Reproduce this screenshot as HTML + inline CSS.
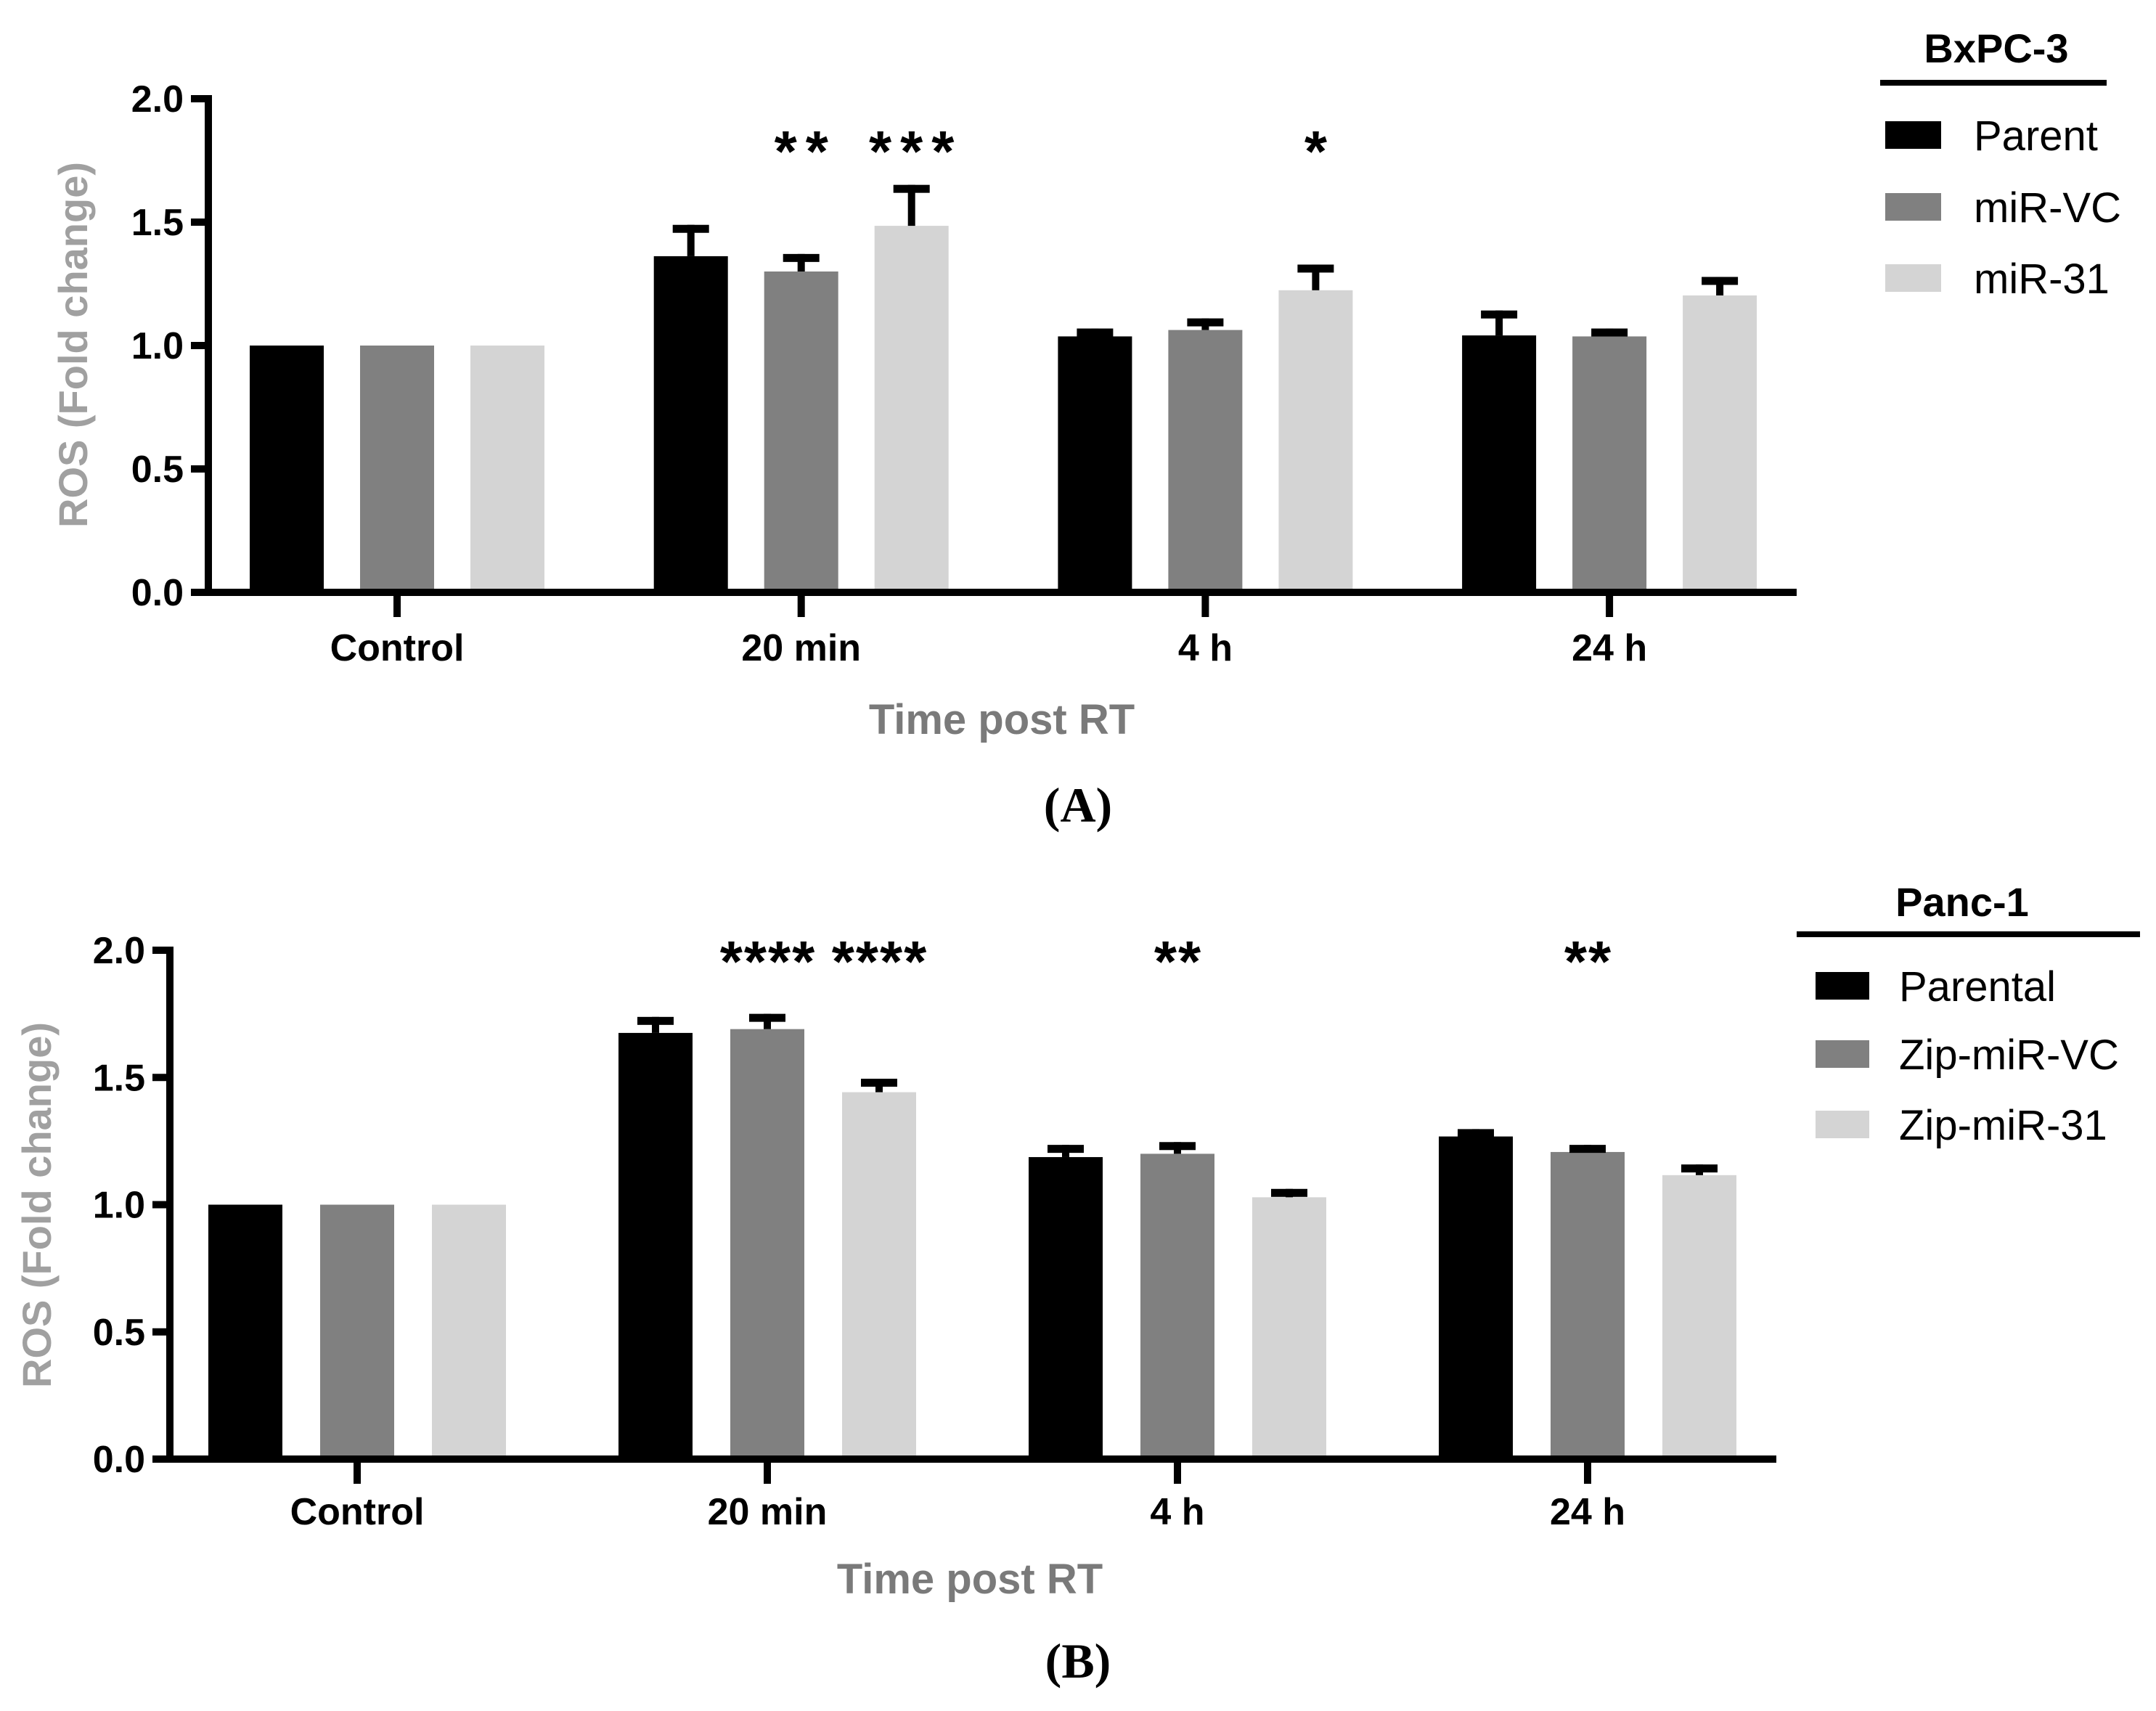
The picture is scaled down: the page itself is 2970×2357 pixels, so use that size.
<!DOCTYPE html>
<html><head><meta charset="utf-8"><style>
html,body{margin:0;padding:0;background:#fff}
svg{display:block}
</style></head><body>
<svg id="fig" width="2970" height="2357" viewBox="0 0 2970 2357" xmlns="http://www.w3.org/2000/svg" font-family="Liberation Sans, Arial, sans-serif"></svg>
<script>
const categories = ["Control","20 min","4 h","24 h"];
const yTicks = [0,0.5,1.0,1.5,2.0];
const tickLabels = ["0.0","0.5","1.0","1.5","2.0"];
const seriesNamesA = ["Parent","miR-VC","miR-31"];
const seriesNamesB = ["Parental","Zip-miR-VC","Zip-miR-31"];
const aParent = [1.0,1.362,1.037,1.041];
const aParentErr = [0,0.127,0.032,0.101];
const aVC = [1.0,1.30,1.063,1.037];
const aVCErr = [0,0.071,0.047,0.032];
const a31 = [1.0,1.485,1.224,1.203];
const a31Err = [0,0.166,0.104,0.075];
const aStars = [["","",""],["","**","***"],["","","*"],["","",""]];
const bParent = [1.0,1.675,1.187,1.268];
const bParentErr = [0,0.063,0.048,0.029];
const bVC = [1.0,1.69,1.20,1.207];
const bVCErr = [0,0.06,0.046,0.028];
const b31 = [1.0,1.442,1.029,1.116];
const b31Err = [0,0.053,0.033,0.042];
const bStars = [["","",""],["","****","****"],["","**",""],["","**",""]];
const colors = ["#000000","#808080","#d4d4d4"];

const NS="http://www.w3.org/2000/svg";
const svg=document.getElementById('fig');
function el(tag,attrs,parent){const e=document.createElementNS(NS,tag);for(const k in attrs)e.setAttribute(k,attrs[k]);(parent||svg).appendChild(e);return e;}

function drawPanel(cfg){
  const g=el('g',{});
  
  
  const y=v=>cfg.y0-(v/2)*(cfg.y0-cfg.y2);
  const xc=i=>cfg.gx0+i*cfg.gstep;
  const series=[[cfg.s0,cfg.e0],[cfg.s1,cfg.e1],[cfg.s2,cfg.e2]];
  series.forEach((s,si)=>{
    s[0].forEach((v,ci)=>{
      const cx=xc(ci)+(si-1)*cfg.off;
      const r=el('rect',{x:cx-cfg.bw/2,y:y(v),width:cfg.bw,height:cfg.y0-y(v),fill:colors[si]},g);
      
      
      const e=s[1][ci];
      if(e>0){
        const eb=el('g',{},g);
        
        
        el('rect',{x:cx-5,y:y(v+e),width:10,height:y(v)-y(v+e),fill:'#000'},eb);
        el('rect',{x:cx-25,y:y(v+e),width:50,height:11,fill:'#000'},eb);
      }
      const st=cfg.stars[ci][si];
      if(st){
        const t=el('text',{x:cx+cfg.starLS/2,y:cfg.starY,'text-anchor':'middle','font-size':80,'font-weight':'bold','letter-spacing':cfg.starLS},g);
        t.textContent=st;
        
        
      }
    });
  });
  const ya=el('rect',{x:cfg.ax-5,y:cfg.y2-5,width:10,height:cfg.y0-cfg.y2+10,fill:'#000'},g);
  
  
  const xa=el('rect',{x:cfg.ax-24,y:cfg.y0-5,width:cfg.xend-cfg.ax+24,height:10,fill:'#000'},g);
  
  
  yTicks.forEach((v,i)=>{
    el('rect',{x:cfg.ax-24,y:y(v)-5,width:24,height:10,fill:'#000'},g);
    const t=el('text',{x:cfg.ax-34,y:y(v)+18,'text-anchor':'end','font-size':52,'font-weight':'bold'},g);
    t.textContent=tickLabels[i];
    
    
  });
  categories.forEach((c,i)=>{
    el('rect',{x:xc(i)-5,y:cfg.y0,width:10,height:34,fill:'#000'},g);
    const t=el('text',{x:xc(i),y:cfg.catY+19,'text-anchor':'middle','font-size':52,'font-weight':'bold'},g);
    t.textContent=c;
    
    
  });
  const xt=el('text',{x:cfg.xtX,y:cfg.xtY+21,'text-anchor':'middle','font-size':58,'font-weight':'bold',fill:'#7a7a7a'},g);
  xt.textContent='Time post RT';
  
  
  const yt=el('text',{x:0,y:0,'text-anchor':'middle','font-size':56,'font-weight':'bold',fill:'#a0a0a0',transform:`translate(${cfg.ytX+20},${cfg.ytY}) rotate(-90)`},g);
  yt.textContent='ROS (Fold change)';
  
  
  const lg=el('g',{},g);
  
  
  const lt=el('text',{x:cfg.legTitleX,y:cfg.legTitleY+20,'text-anchor':'middle','font-size':56,'font-weight':'bold'},lg);
  lt.textContent=cfg.legTitle;
  
  
  el('rect',{x:cfg.legLineX0,y:cfg.legLineY-4,width:cfg.legLineX1-cfg.legLineX0,height:8,fill:'#000'},lg);
  cfg.names.forEach((n,i)=>{
    const cy=cfg.legRows[i];
    const en=el('g',{},lg);
    
    
    el('rect',{x:cfg.swX,y:cy-19,width:cfg.swW,height:38,fill:colors[i]},en);
    const t=el('text',{x:cfg.legTextX,y:cy+21,'font-size':58},en);
    t.textContent=n;
  });
  const pl=el('text',{x:1485,y:cfg.panelY+22,'text-anchor':'middle','font-size':68,'font-weight':'bold','font-family':'Liberation Serif, serif'},g);
  pl.textContent='('+cfg.panel+')';
  
  
}

drawPanel({name:'chart-a-bxpc3',panel:'A',y0:816,y2:136,ax:287,xend:2475,gx0:547,gstep:556.7,off:152,bw:102,
  s0:aParent,e0:aParentErr,s1:aVC,e1:aVCErr,s2:a31,e2:a31Err,stars:aStars,starY:236,starLS:12,
  catY:891,xtX:1380,xtY:990,ytX:100,ytY:475,names:seriesNamesA,legTitle:'BxPC-3',legTitleX:2750,legTitleY:66,
  legLineX0:2590,legLineX1:2902,legLineY:114,swX:2597,swW:77,legRows:[186,285,383],legTextX:2719,panelY:1110});
drawPanel({name:'chart-b-panc1',panel:'B',y0:2010,y2:1309,ax:234,xend:2447,gx0:492,gstep:565,off:154,bw:102,
  s0:bParent,e0:bParentErr,s1:bVC,e1:bVCErr,s2:b31,e2:b31Err,stars:bStars,starY:1352,starLS:2,
  catY:2081,xtX:1336,xtY:2174,ytX:50,ytY:1660,names:seriesNamesB,legTitle:'Panc-1',legTitleX:2703,legTitleY:1242,
  legLineX0:2475,legLineX1:2948,legLineY:1287,swX:2501,swW:74,legRows:[1358,1452,1549],legTextX:2616,panelY:2289});
</script>
</body></html>
